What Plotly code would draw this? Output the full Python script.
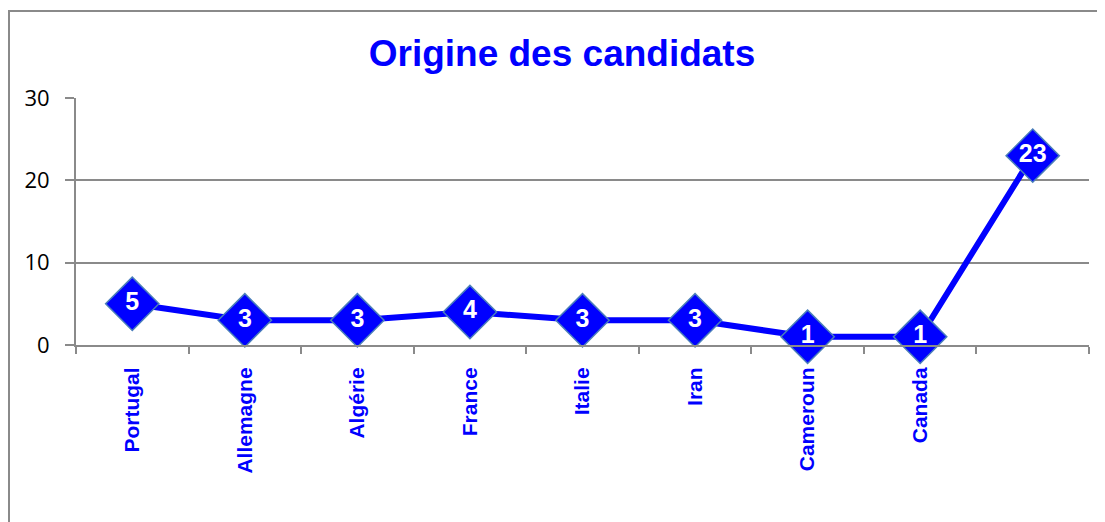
import plotly.graph_objects as go

categories = ["Portugal", "Allemagne", "Algérie", "France", "Italie", "Iran", "Cameroun", "Canada", "Autre"]
tick_labels = ["Portugal", "Allemagne", "Algérie", "France", "Italie", "Iran", "Cameroun", "Canada", ""]
values = [5, 3, 3, 4, 3, 3, 1, 1, 23]
y_ticks = [0, 10, 20, 30]

BLUE = "#0000FF"
GRAY = "#8a8a8a"

W, H = 1097, 514
L, T, R, B = 68, 90, 16, 177
PW = W - L - R
PH = H - T - B

fig = go.Figure()
fig.add_trace(go.Scatter(
    x=categories,
    y=values,
    mode="lines+markers+text",
    text=[str(v) for v in values],
    textposition="middle center",
    textfont=dict(family="Liberation Sans", size=25, color="white", weight="bold"),
    line=dict(color=BLUE, width=6),
    marker=dict(symbol="diamond", size=41, color=BLUE, line=dict(color="#4a7ebb", width=1.5)),
    cliponaxis=False,
    hoverinfo="x+y",
))

fig.update_layout(
    width=W,
    height=H,
    margin=dict(l=L, r=R, t=T, b=B),
    paper_bgcolor="white",
    plot_bgcolor="white",
    showlegend=False,
    title=dict(
        text="<b>Origine des candidats</b>",
        font=dict(family="Liberation Sans", size=37, color=BLUE),
        x=554 / W,
        xref="container",
        xanchor="center",
        y=1 - 45 / H,
        yref="container",
        yanchor="middle",
    ),
    xaxis=dict(
        type="category",
        tickmode="array",
        tickvals=categories,
        ticktext=tick_labels,
        tickson="boundaries",
        ticks="outside",
        ticklen=7,
        tickwidth=2,
        tickcolor=GRAY,
        tickangle=-90,
        tickfont=dict(family="Liberation Sans", size=21, color=BLUE, weight="bold"),
        ticklabelstandoff=12,
        showline=True,
        linecolor=GRAY,
        linewidth=2,
        showgrid=False,
        zeroline=False,
        range=[-0.5, 8.5],
    ),
    yaxis=dict(
        range=[0, 30],
        tickmode="array",
        tickvals=y_ticks,
        ticks="outside",
        ticklen=9,
        tickwidth=2,
        tickcolor=GRAY,
        tickfont=dict(family="Open Sans", size=22, color="black"),
        ticklabelstandoff=11,
        showline=True,
        linecolor=GRAY,
        linewidth=2,
        showgrid=True,
        gridcolor=GRAY,
        gridwidth=2,
        zeroline=False,
    ),
    shapes=[
        dict(
            type="rect",
            xref="paper",
            yref="paper",
            x0=(1 - L) / PW,
            x1=1.2,
            y0=-1.5,
            y1=(T + PH - 3) / PH,
            line=dict(color=GRAY, width=2),
            fillcolor="rgba(0,0,0,0)",
            layer="below",
        )
    ],
)

fig.write_html("out.html")
